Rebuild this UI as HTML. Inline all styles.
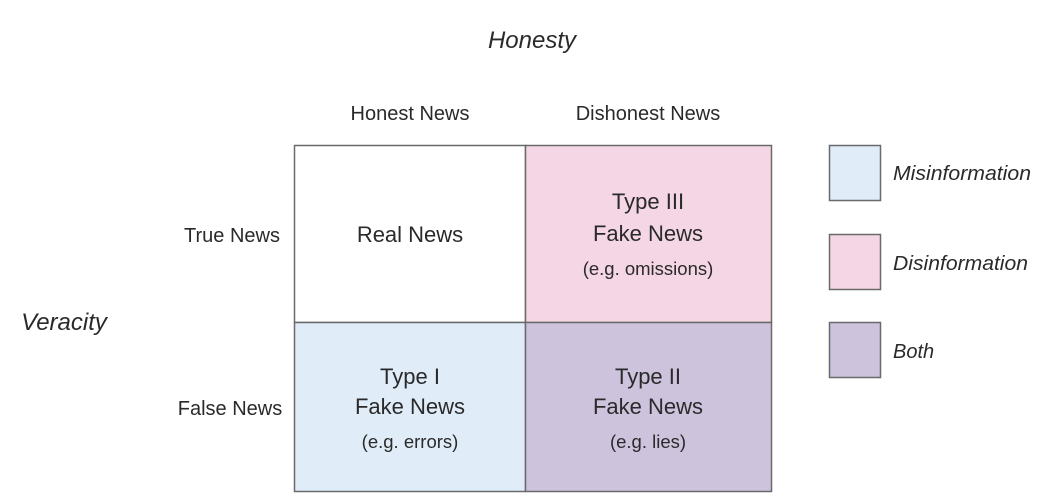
<!DOCTYPE html>
<html><head><meta charset="utf-8"><style>
html,body{margin:0;padding:0;background:#fff;}
svg{display:block;}
text{font-family:"Liberation Sans",sans-serif;fill:#2a2a2a;}
</style></head><body>
<svg width="1052" height="504" viewBox="0 0 1052 504" xmlns="http://www.w3.org/2000/svg">
<text x="532" y="48" font-size="24" font-style="italic" text-anchor="middle">Honesty</text>
<text x="64" y="330" font-size="24" font-style="italic" text-anchor="middle">Veracity</text>
<text x="410" y="120" font-size="20" text-anchor="middle">Honest News</text>
<text x="648" y="120" font-size="20" text-anchor="middle">Dishonest News</text>
<text x="232" y="242" font-size="20" text-anchor="middle">True News</text>
<text x="230" y="415" font-size="20" text-anchor="middle">False News</text>
<rect x="294.5" y="145.5" width="231" height="177" fill="#fff" stroke="#6a6a6a" stroke-width="1.5"/>
<rect x="525.5" y="145.5" width="246" height="177" fill="#f4d6e4" stroke="#6a6a6a" stroke-width="1.5"/>
<rect x="294.5" y="322.5" width="231" height="169" fill="#e0edf9" stroke="#6a6a6a" stroke-width="1.5"/>
<rect x="525.5" y="322.5" width="246" height="169" fill="#cdc3dd" stroke="#6a6a6a" stroke-width="1.5"/>
<text x="410" y="242" font-size="22" text-anchor="middle">Real News</text>
<text x="648" y="209" font-size="22" text-anchor="middle">Type III</text>
<text x="648" y="241" font-size="22" text-anchor="middle">Fake News</text>
<text x="648" y="275" font-size="18.5" text-anchor="middle">(e.g. omissions)</text>
<text x="410" y="384" font-size="22" text-anchor="middle">Type I</text>
<text x="410" y="414" font-size="22" text-anchor="middle">Fake News</text>
<text x="410" y="448" font-size="18.5" text-anchor="middle">(e.g. errors)</text>
<text x="648" y="384" font-size="22" text-anchor="middle">Type II</text>
<text x="648" y="414" font-size="22" text-anchor="middle">Fake News</text>
<text x="648" y="448" font-size="18.5" text-anchor="middle">(e.g. lies)</text>
<rect x="829.5" y="145.5" width="51" height="55" fill="#e0edf9" stroke="#6a6a6a" stroke-width="1.5"/>
<rect x="829.5" y="234.5" width="51" height="55" fill="#f4d6e4" stroke="#6a6a6a" stroke-width="1.5"/>
<rect x="829.5" y="322.5" width="51" height="55" fill="#cdc3dd" stroke="#6a6a6a" stroke-width="1.5"/>
<text x="893" y="180" font-size="20" font-style="italic" textLength="138" lengthAdjust="spacingAndGlyphs">Misinformation</text>
<text x="893" y="270" font-size="20" font-style="italic" textLength="135" lengthAdjust="spacingAndGlyphs">Disinformation</text>
<text x="893" y="358" font-size="20" font-style="italic">Both</text>
</svg>
</body></html>
